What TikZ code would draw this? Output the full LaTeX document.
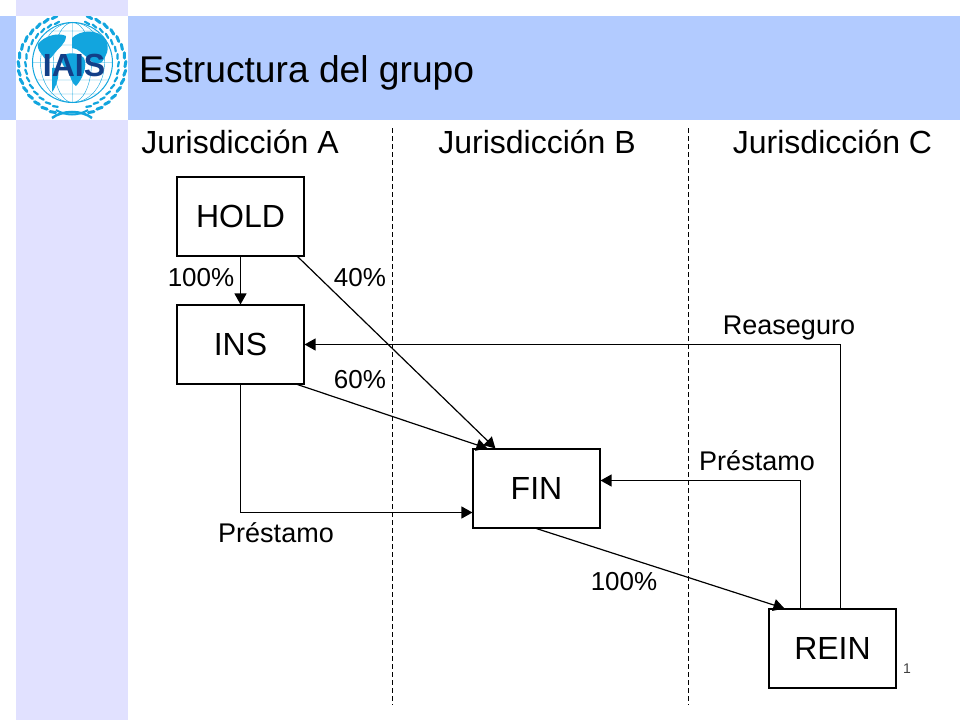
\documentclass[tikz,border=0pt]{standalone}
\usepackage{fontspec}
\setmainfont{Liberation Sans}
\usetikzlibrary{arrows.meta,calc}
\definecolor{headblue}{HTML}{B2CBFF}
\definecolor{bandlav}{HTML}{E1E1FF}
\definecolor{logoblue}{HTML}{12A5DE}
\definecolor{logodark}{HTML}{123F88}
\tikzset{
  box/.style={draw=black,line width=1.1pt,fill=white,minimum width=127pt,minimum height=79pt,inner sep=0pt,font=\fontsize{32}{36}\selectfont},
  conn/.style={draw=black,line width=1.2pt,-{Triangle[length=11pt,width=12pt]}},
  divider/.style={draw=black,line width=0.8pt,dash pattern=on 5pt off 3pt},
  juris/.style={font=\fontsize{32}{35}\selectfont,inner sep=0pt},
  lab/.style={font=\fontsize{27}{30}\selectfont,inner sep=0pt},
  pct/.style={font=\fontsize{26}{30}\selectfont,inner sep=0pt},
  leaf/.style={draw=logoblue,line width=3pt,line cap=round},
  leafin/.style={draw=logoblue,line width=2.2pt,line cap=round},
}
\begin{document}
\begin{tikzpicture}[x=1pt,y=-1pt]
\useasboundingbox (0,0) rectangle (960,720);
\fill[white] (0,0) rectangle (960,720);
\fill[bandlav] (16,0) rectangle (128,720);
\fill[headblue] (0,16) rectangle (960,120);
\fill[white] (16,16) rectangle (128,120);
% logo
\begin{scope}
\clip (16,16) rectangle (128,120);
\foreach \a in {-72,-62,...,68}{
  \pgfmathsetmacro{\ca}{cos(\a)}\pgfmathsetmacro{\sa}{sin(\a)}
  \pgfmathsetmacro{\cb}{cos(\a+6)}\pgfmathsetmacro{\sb}{sin(\a+6)}
  \draw[leaf] ({72+53*\ca},{65-50*\sa}) -- ({72+54*\cb},{65-51*\sb});
  \draw[leaf] ({72-53*\ca},{65-50*\sa}) -- ({72-54*\cb},{65-51*\sb});
  \draw[leafin] ({72+46*\ca},{65-44*\sa}) -- ({72+47*\cb},{65-45*\sb});
  \draw[leafin] ({72-46*\ca},{65-44*\sa}) -- ({72-47*\cb},{65-45*\sb});
}
\draw[logoblue,line width=2.5pt] (52,118) .. controls (62,110) and (82,110) .. (92,118);
\draw[logoblue,line width=2pt] (56,110) .. controls (66,116) and (78,116) .. (88,110);
\draw[logoblue,line width=1pt] (72.5,62.5) circle (40);
\draw[logoblue,line width=0.4pt] (72.5,62.5) ellipse (19 and 40) (72.5,62.5) ellipse (32 and 40)
  (33,62.5) -- (112,62.5) (37,45) -- (108,45) (37,80) -- (108,80) (48,31) -- (97,31) (48,94) -- (97,94) (72.5,23) -- (72.5,102);
% continents
\fill[logoblue] (38,44) .. controls (44,36) and (58,32) .. (66,36) .. controls (66,44) and (58,48) .. (54,54) .. controls (50,60) and (46,62) .. (43,56) .. controls (40,52) and (37,49) .. (38,44) -- cycle;
\fill[logoblue] (72,38) .. controls (80,30) and (98,28) .. (106,40) .. controls (110,50) and (106,56) .. (102,62) .. controls (96,66) and (92,62) .. (88,58) .. controls (82,54) and (78,48) .. (72,48) -- cycle;
\fill[logoblue] (62,56) .. controls (68,52) and (78,52) .. (84,58) .. controls (88,66) and (82,80) .. (76,86) .. controls (72,84) and (70,76) .. (68,70) .. controls (64,68) and (60,62) .. (62,56) -- cycle;
\fill[logoblue] (52,68) .. controls (56,66) and (60,72) .. (58,78) .. controls (56,86) and (54,90) .. (52,92) -- cycle;
\node[inner sep=0pt,text=logodark,font=\bfseries\fontsize{32}{32}\selectfont] (logotext) at (74,65) {IAIS};
\end{scope}
% title
\node[anchor=base west,inner sep=0pt,font=\fontsize{37.2}{40}\selectfont] (title) at (139,82) {Estructura del grupo};
% jurisdictions
\node[juris,anchor=base] (ja) at (240,153) {Jurisdicción A};
\node[juris,anchor=base] (jb) at (537,153) {Jurisdicción B};
\node[juris,anchor=base] (jc) at (832.5,153) {Jurisdicción C};
% dividers
\coordinate (d1a) at (392,128); \coordinate (d1b) at (392,705);
\coordinate (d2a) at (688,128); \coordinate (d2b) at (688,705);
\draw[divider] (d1a) -- (d1b);
\draw[divider] (d2a) -- (d2b);
% boxes
\node[box] (hold) at (240.5,216.5) {HOLD};
\node[box] (ins) at (240.5,344.5) {INS};
\node[box] (fin) at (536.5,488.5) {FIN};
\node[box] (rein) at (832.5,648.5) {REIN};
% connectors
\draw[conn] (hold.south) -- (ins.north);
\draw[conn] ($(hold.south east)+(-7,0)$) -- ($(fin.north west)+(23,0)$);
\draw[conn] ($(ins.south east)+(-7,0)$) -- ($(fin.north west)+(15,0)$);
\draw[conn] (ins.south) |- ($(fin.west)+(0,24)$);
\draw[conn] ($(fin.south west)+(64,0)$) -- ($(rein.north west)+(16,0)$);
\draw[conn] ($(rein.north west)+(32,0)$) |- ($(fin.east)+(0,-8)$);
\draw[conn] ($(rein.north west)+(72,0)$) |- (ins.east);
% labels
\node[pct,anchor=base] (l100a) at (201,286) {100\%};
\node[pct,anchor=base] (l40) at (360,286) {40\%};
\node[pct,anchor=base] (l60) at (360,388) {60\%};
\node[lab,anchor=base] (lrea) at (789,334) {Reaseguro};
\node[lab,anchor=base] (lpre1) at (757,470) {Préstamo};
\node[lab,anchor=base] (lpre2) at (276,542) {Préstamo};
\node[pct,anchor=base] (l100b) at (624,590) {100\%};
\node[anchor=base,inner sep=0pt,font=\fontsize{14}{16}\selectfont,text=black!75] (pg) at (907,673) {1};
\end{tikzpicture}
\end{document}
